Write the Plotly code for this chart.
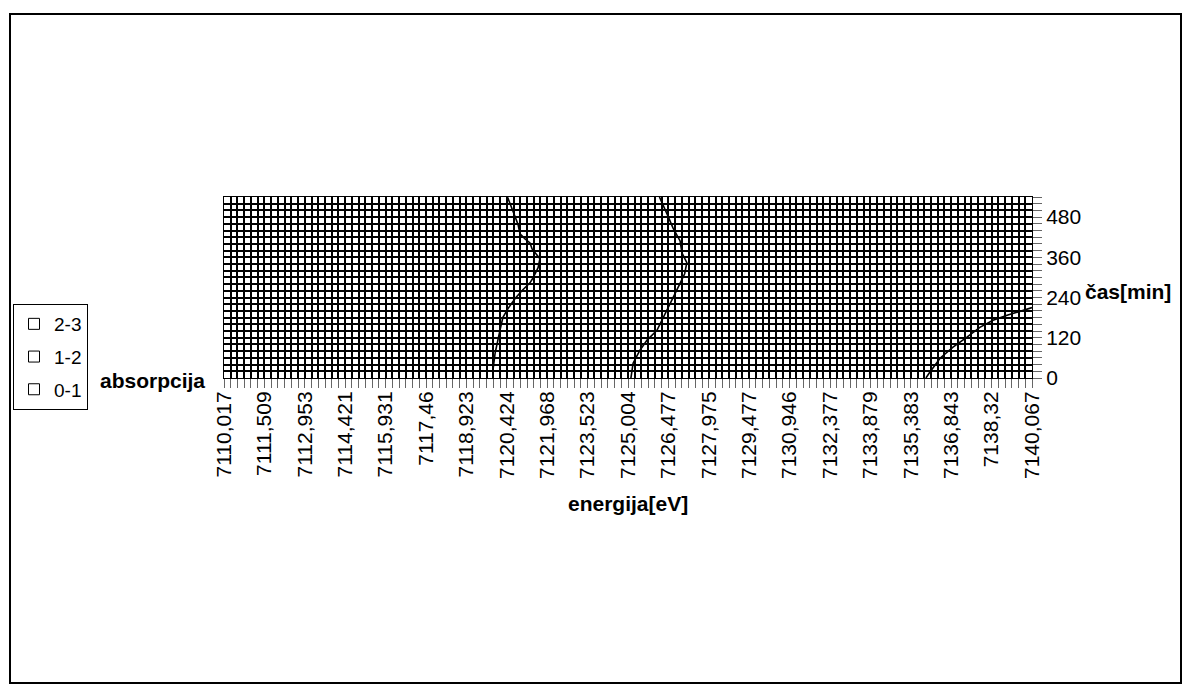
import numpy as np
import plotly.graph_objects as go

# ---------------- data ----------------
energy_tick_labels = ["7110,017", "7111,509", "7112,953", "7114,421", "7115,931", "7117,46",
                      "7118,923", "7120,424", "7121,968", "7123,523", "7125,004", "7126,477",
                      "7127,975", "7129,477", "7130,946", "7132,377", "7133,879", "7135,383",
                      "7136,843", "7138,32", "7140,067"]
energy_tick_values = [float(s.replace(",", ".")) for s in energy_tick_labels]
categories_per_label = 6          # one labelled category every 6 energy points
time_ticks = [0, 120, 240, 360, 480]
time_step = 20                    # series spacing (min)
time_max = 540

legend_bands = ["2-3", "1-2", "0-1"]   # top to bottom as shown in the legend

# contour lines: energy [eV], time [min]
contour_a_energy = [7119.91, 7119.91, 7119.99, 7120.17, 7120.17, 7120.28, 7120.47, 7120.74, 7121.01,
                    7121.31, 7121.43, 7121.62, 7121.69, 7121.39, 7121.31, 7121.12, 7120.93, 7120.85,
                    7120.66, 7120.45]
contour_a_time = [0, 24, 74, 133, 142, 181, 207, 237, 261, 284, 299, 329, 356, 385, 403, 415, 430,
                  459, 498, 540]

contour_b_energy = [7125.11, 7125.19, 7125.44, 7125.70, 7126.06, 7126.35, 7126.65, 7126.90, 7127.08,
                    7127.16, 7126.98, 7126.91, 7126.65, 7126.43, 7126.15]
contour_b_time = [0, 44, 83, 113, 142, 193, 240, 281, 311, 344, 373, 409, 447, 489, 540]

contour_c_energy = [7135.93, 7136.05, 7136.44, 7136.91, 7137.42, 7137.89, 7138.38, 7138.99, 7140.067]
contour_c_time = [0, 15, 59, 92, 122, 151, 172, 187, 210]

# ---------------- figure ----------------
label_idx = [i * categories_per_label for i in range(len(energy_tick_labels))]
n_cat = label_idx[-1]


def to_cat(e):
    return np.interp(e, energy_tick_values, label_idx)


FONT = "Arial, Liberation Sans, sans-serif"
W, H = 1191, 693
L, R, T, B = 224, 1032, 197, 378  # plot area in screen pixels

fig = go.Figure()

for ex, ty in [(contour_a_energy, contour_a_time),
               (contour_b_energy, contour_b_time),
               (contour_c_energy, contour_c_time)]:
    fig.add_trace(go.Scatter(x=to_cat(ex), y=ty, mode="lines",
                             line=dict(color="black", width=1.6),
                             showlegend=False, hoverinfo="skip"))

for band in legend_bands:
    fig.add_trace(go.Scatter(x=[None], y=[None], mode="markers", name=band,
                             legendgroup=band,
                             marker=dict(symbol="square", size=11, color="white",
                                         line=dict(color="black", width=1))))


def px_x(p):
    return (p - L) / (R - L)


def px_y(p):
    return (B - p) / (B - T)


grid_w = 1.6
fig.update_layout(
    width=W, height=H,
    margin=dict(l=L, r=W - R, t=T, b=H - B),
    paper_bgcolor="white", plot_bgcolor="white",
    font=dict(family=FONT, size=21, color="black"),
    showlegend=True,
    legend=dict(x=px_x(13), y=px_y(304), xanchor="left", yanchor="top",
                traceorder="grouped", bordercolor="black", borderwidth=1,
                bgcolor="white", font=dict(size=19, family=FONT),
                itemwidth=30, tracegroupgap=5),
    xaxis=dict(range=[0, n_cat], tickmode="array", tickvals=label_idx,
               ticktext=energy_tick_labels, tickangle=-90,
               showgrid=True, gridcolor="black", gridwidth=grid_w,
               ticks="outside", ticklen=9, tickcolor="#666", tickwidth=1,
               tickfont=dict(size=21, family=FONT), ticklabelstandoff=-5,
               minor=dict(dtick=1, tick0=0, showgrid=True, gridcolor="black",
                          gridwidth=grid_w, ticks="outside", ticklen=9,
                          tickcolor="#666", tickwidth=1),
               showline=True, linecolor="black", linewidth=1, mirror=True,
               zeroline=False, fixedrange=True),
    yaxis=dict(range=[0, time_max], side="right", tickmode="array", tickvals=time_ticks,
               showgrid=True, gridcolor="black", gridwidth=grid_w,
               ticks="outside", ticklen=9, tickcolor="#666", tickwidth=1,
               tickfont=dict(size=21, family=FONT),
               minor=dict(dtick=time_step, tick0=0, showgrid=True, gridcolor="black",
                          gridwidth=grid_w, ticks="outside", ticklen=9,
                          tickcolor="#666", tickwidth=1),
               showline=True, linecolor="black", linewidth=1, mirror=True,
               zeroline=False, fixedrange=True),
)

fig.add_annotation(text="<b>energija[eV]</b>", xref="paper", yref="paper",
                   x=0.5, y=px_y(503), xanchor="center", yanchor="middle",
                   showarrow=False, font=dict(size=21, family=FONT))
fig.add_annotation(text="<b>absorpcija</b>", xref="paper", yref="paper",
                   x=px_x(152), y=px_y(380), xanchor="center", yanchor="middle",
                   showarrow=False, font=dict(size=21, family=FONT))
fig.add_annotation(text="<b>čas[min]</b>", xref="paper", yref="paper",
                   x=px_x(1083), y=px_y(291), xanchor="left", yanchor="middle",
                   showarrow=False, font=dict(size=21, family=FONT))

# outer chart frame
fig.add_shape(type="rect", xref="paper", yref="paper",
              x0=px_x(10), x1=px_x(1181), y0=px_y(683), y1=px_y(14),
              line=dict(color="black", width=2), fillcolor="rgba(0,0,0,0)", layer="below")

fig.write_html("out.html", config={"displayModeBar": False},
               post_script="document.body.style.margin='0';document.body.style.overflow='hidden';")
